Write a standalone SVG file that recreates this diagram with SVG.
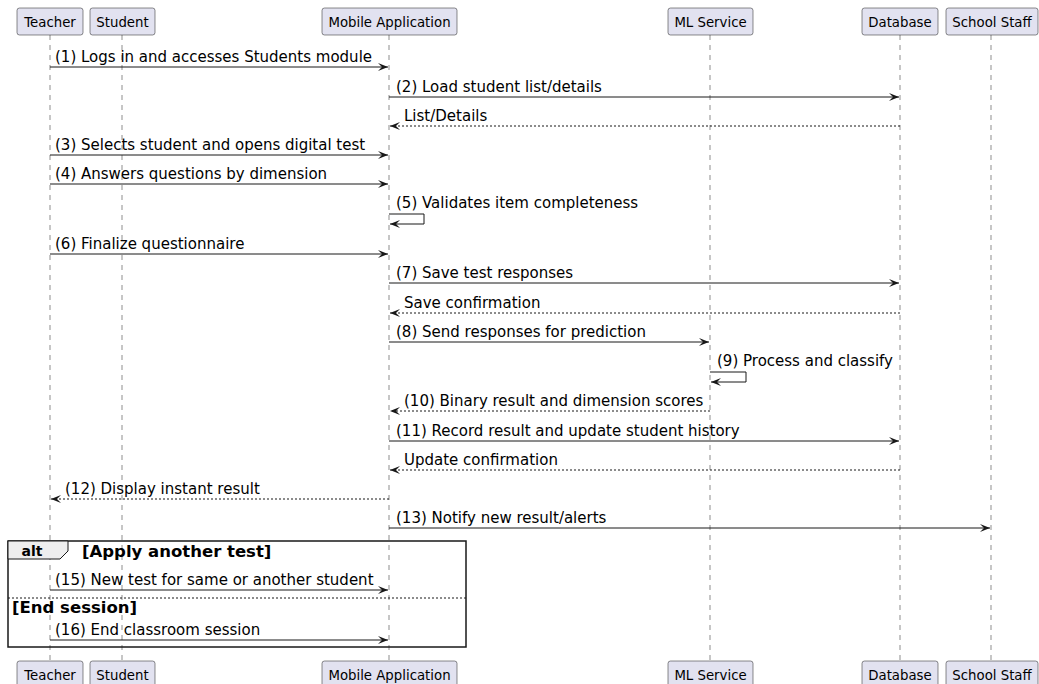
<svg xmlns="http://www.w3.org/2000/svg" width="1039" height="684" viewBox="0 0 1039 684">
<style>
.box{fill:#E2E2F0;stroke:#181818;stroke-width:0.5}
.pt{font-family:"DejaVu Sans",sans-serif;font-size:13.3px;fill:#000;text-anchor:middle}
.life{stroke:#181818;stroke-width:0.5;stroke-dasharray:5,5;fill:none}
.msg{stroke:#181818;stroke-width:1;fill:none}
.rep{stroke:#181818;stroke-width:1;stroke-dasharray:2,2;fill:none}
.mt{font-family:"DejaVu Sans",sans-serif;font-size:15px;fill:#000}
.bt{font-family:"DejaVu Sans",sans-serif;font-size:16.5px;font-weight:bold;fill:#000}
.at{font-family:"DejaVu Sans",sans-serif;font-size:14px;font-weight:bold;fill:#000}
</style>
<defs>
<marker id="ar" viewBox="0 0 10 8" refX="10" refY="4" markerWidth="10" markerHeight="8" markerUnits="userSpaceOnUse" orient="auto">
<polygon points="0,0 10,4 0,8 4,4" fill="#181818"/>
</marker>
</defs>
<g id="lifelines">
<line class="life" x1="50" y1="35" x2="50" y2="661"/>
<line class="life" x1="122" y1="35" x2="122" y2="661"/>
<line class="life" x1="389" y1="35" x2="389" y2="661"/>
<line class="life" x1="710" y1="35" x2="710" y2="661"/>
<line class="life" x1="900" y1="35" x2="900" y2="661"/>
<line class="life" x1="991" y1="35" x2="991" y2="661"/>
</g>
<g id="p-teacher"><rect class="box" x="17" y="8" width="66" height="27" rx="2.5"/><text class="pt" x="50" y="27">Teacher</text>
<rect class="box" x="17" y="661" width="66" height="27" rx="2.5"/><text class="pt" x="50" y="680">Teacher</text></g>
<g id="p-student"><rect class="box" x="90" y="8" width="65" height="27" rx="2.5"/><text class="pt" x="122.5" y="27">Student</text>
<rect class="box" x="90" y="661" width="65" height="27" rx="2.5"/><text class="pt" x="122.5" y="680">Student</text></g>
<g id="p-mobile"><rect class="box" x="322" y="8" width="135" height="27" rx="2.5"/><text class="pt" x="389.5" y="27">Mobile Application</text>
<rect class="box" x="322" y="661" width="135" height="27" rx="2.5"/><text class="pt" x="389.5" y="680">Mobile Application</text></g>
<g id="p-ml"><rect class="box" x="668" y="8" width="85" height="27" rx="2.5"/><text class="pt" x="710.5" y="27">ML Service</text>
<rect class="box" x="668" y="661" width="85" height="27" rx="2.5"/><text class="pt" x="710.5" y="680">ML Service</text></g>
<g id="p-db"><rect class="box" x="862" y="8" width="76" height="27" rx="2.5"/><text class="pt" x="900" y="27">Database</text>
<rect class="box" x="862" y="661" width="76" height="27" rx="2.5"/><text class="pt" x="900" y="680">Database</text></g>
<g id="p-staff"><rect class="box" x="946" y="8" width="92" height="27" rx="2.5"/><text class="pt" x="992" y="27">School Staff</text>
<rect class="box" x="946" y="661" width="92" height="27" rx="2.5"/><text class="pt" x="992" y="680">School Staff</text></g>
<g id="alt-frame">
<rect x="8" y="541" width="458" height="106" fill="none" stroke="#181818" stroke-width="1.5"/>
<polygon points="8,541 68,541 68,551 60,559 8,559" fill="#EEEEEE" stroke="#181818" stroke-width="1"/>
<text class="at" x="21.5" y="555.5">alt</text>
<text class="bt" x="82" y="557">[Apply another test]</text>
<line x1="8" y1="598" x2="466" y2="598" stroke="#181818" stroke-width="1" stroke-dasharray="2,2"/>
<text class="bt" x="12" y="613">[End session]</text>
</g>
<g id="connectors">
<line class="msg" x1="50" y1="67" x2="388" y2="67" marker-end="url(#ar)"/>
<text class="mt" x="55" y="62">(1) Logs in and accesses Students module</text>
<line class="msg" x1="389" y1="97" x2="899" y2="97" marker-end="url(#ar)"/>
<text class="mt" x="396" y="92">(2) Load student list/details</text>
<line class="rep" x1="900" y1="126" x2="390" y2="126" marker-end="url(#ar)"/>
<text class="mt" x="404" y="121">List/Details</text>
<line class="msg" x1="50" y1="155" x2="388" y2="155" marker-end="url(#ar)"/>
<text class="mt" x="55" y="150">(3) Selects student and opens digital test</text>
<line class="msg" x1="50" y1="184" x2="388" y2="184" marker-end="url(#ar)"/>
<text class="mt" x="55" y="179">(4) Answers questions by dimension</text>
<polyline class="msg" points="389,214 424,214 424,224 390,224" marker-end="url(#ar)"/>
<text class="mt" x="396" y="208">(5) Validates item completeness</text>
<line class="msg" x1="50" y1="254" x2="388" y2="254" marker-end="url(#ar)"/>
<text class="mt" x="55" y="249">(6) Finalize questionnaire</text>
<line class="msg" x1="389" y1="283" x2="899" y2="283" marker-end="url(#ar)"/>
<text class="mt" x="396" y="278">(7) Save test responses</text>
<line class="rep" x1="900" y1="313" x2="390" y2="313" marker-end="url(#ar)"/>
<text class="mt" x="404" y="308">Save confirmation</text>
<line class="msg" x1="389" y1="342" x2="709" y2="342" marker-end="url(#ar)"/>
<text class="mt" x="396" y="337">(8) Send responses for prediction</text>
<polyline class="msg" points="710,372 746,372 746,382 711,382" marker-end="url(#ar)"/>
<text class="mt" x="717" y="366">(9) Process and classify</text>
<line class="rep" x1="710" y1="411" x2="390" y2="411" marker-end="url(#ar)"/>
<text class="mt" x="404" y="406">(10) Binary result and dimension scores</text>
<line class="msg" x1="389" y1="441" x2="899" y2="441" marker-end="url(#ar)"/>
<text class="mt" x="396" y="436">(11) Record result and update student history</text>
<line class="rep" x1="900" y1="470" x2="390" y2="470" marker-end="url(#ar)"/>
<text class="mt" x="404" y="465">Update confirmation</text>
<line class="rep" x1="389" y1="499" x2="51" y2="499" marker-end="url(#ar)"/>
<text class="mt" x="65" y="494">(12) Display instant result</text>
<line class="msg" x1="389" y1="528" x2="990" y2="528" marker-end="url(#ar)"/>
<text class="mt" x="396" y="523">(13) Notify new result/alerts</text>
<line class="msg" x1="50" y1="590" x2="388" y2="590" marker-end="url(#ar)"/>
<text class="mt" x="55" y="585">(15) New test for same or another student</text>
<line class="msg" x1="50" y1="640" x2="388" y2="640" marker-end="url(#ar)"/>
<text class="mt" x="55" y="635">(16) End classroom session</text>
</g>
</svg>
